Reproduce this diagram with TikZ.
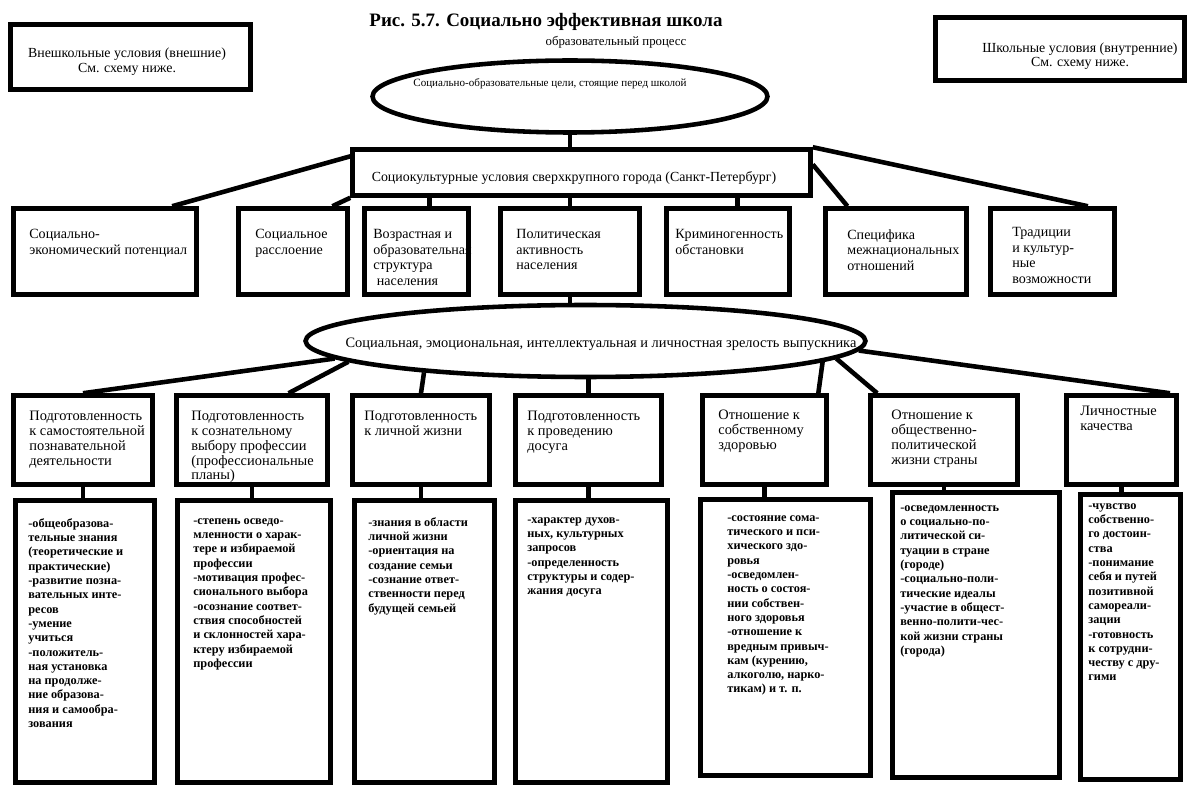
\documentclass[tikz,border=0pt]{standalone}
\usepackage{fontspec}
\setmainfont{Liberation Serif}
\usetikzlibrary{shapes.geometric}

\newcommand\rowfont{\fontsize{8}{8.9}\selectfont}
\newcommand\headfont{\fontsize{8.2}{8.4}\selectfont}
\newcommand\listfont{\fontsize{7}{8.15}\selectfont\bfseries}

\begin{document}
\begin{tikzpicture}[x=0.02cm,y=-0.02cm,
  box/.style={draw,line width=2.6pt,inner sep=0pt},
  oval/.style={draw,ellipse,line width=2.6pt,inner sep=0pt},
  txt/.style={anchor=north west,inner sep=0pt,align=left},
  every edge/.append style={line width=2.6pt}]
\fill[white] (0,0) rectangle (1191,787);
\useasboundingbox (0,0) rectangle (1191,787);

% title and the two corner boxes
\node[font=\fontsize{10.8}{12}\selectfont\bfseries] (title) at (546,22) {Рис. 5.7. Социально эффективная школа};
\node[font=\fontsize{7.3}{8}\selectfont] (proc) at (616,42) {образовательный процесс};
\node[box,minimum width=4.8cm,minimum height=1.3cm] (outer) at (130.5,57) {};
\node[align=center,inner sep=0pt,font=\fontsize{7.9}{8.6}\selectfont] (outert) at (127,62) {Внешкольные условия (внешние)\\См. схему ниже.};
\node[box,minimum width=4.98cm,minimum height=1.26cm] (inner) at (1060,49) {};
\node[align=center,inner sep=0pt,font=\fontsize{7.9}{8}\selectfont] (innert) at (1080,56) {Школьные условия (внутренние)\\См. схему ниже.};

% goals and the city
\node[oval,minimum width=7.9cm,minimum height=1.44cm] (ell1) at (570,96.5) {};
\node[font=\fontsize{6.3}{7}\selectfont] (ell1t) at (550,84) {Социально-образовательные цели, стоящие перед школой};
\node[box,minimum width=9.16cm,minimum height=0.92cm] (soc) at (581.5,172.5) {};
\node[font=\fontsize{7.9}{9}\selectfont] (soct) at (574,178) {Социокультурные условия сверхкрупного города (Санкт-Петербург)};

% conditions of the city
\node[box,minimum width=3.66cm,minimum height=1.72cm] (r1) at (105,251.5) {};
\node[box,minimum width=2.18cm,minimum height=1.72cm] (r2) at (293,251.5) {};
\node[box,minimum width=2.08cm,minimum height=1.72cm] (r3) at (416.5,251.5) {};
\node[box,minimum width=2.78cm,minimum height=1.72cm] (r4) at (570,251.5) {};
\node[box,minimum width=2.46cm,minimum height=1.72cm] (r5) at (728,251.5) {};
\node[box,minimum width=2.82cm,minimum height=1.72cm] (r6) at (896,251.5) {};
\node[box,minimum width=2.48cm,minimum height=1.72cm] (r7) at (1052.5,251.5) {};
\node[txt,font=\rowfont] (r1t) at (29,229) {Социально-\\экономический потенциал};
\node[txt,font=\rowfont] (r2t) at (255,229) {Социальное\\расслоение};
\node[txt,font=\rowfont] (r3t) at (373,229) {Возрастная и\\образовательная\\структура\\\hspace{2pt}населения};
\node[txt,font=\rowfont] (r4t) at (516,229) {Политическая\\активность\\населения};
\node[txt,font=\rowfont] (r5t) at (675,229) {Криминогенность\\обстановки};
\node[txt,font=\rowfont] (r6t) at (847,229) {Специфика\\межнациональных\\отношений};
\node[txt,font=\rowfont] (r7t) at (1012,227) {Традиции\\и культур-\\ные\\возможности};

% maturity of the graduate
\node[oval,minimum width=11.2cm,minimum height=1.44cm] (ell2) at (585.5,341) {};
\node[font=\fontsize{8.2}{9}\selectfont] (ell2t) at (601,344) {Социальная, эмоциональная, интеллектуальная и личностная зрелость выпускника};

\node[box,minimum width=2.78cm,minimum height=1.78cm] (h1) at (83,440) {};
\node[box,minimum width=3.02cm,minimum height=1.78cm] (h2) at (252,440) {};
\node[box,minimum width=2.74cm,minimum height=1.78cm] (h3) at (421,440) {};
\node[box,minimum width=2.92cm,minimum height=1.78cm] (h4) at (588.5,440) {};
\node[box,minimum width=2.48cm,minimum height=1.78cm] (h5) at (764.5,440) {};
\node[box,minimum width=2.94cm,minimum height=1.78cm] (h6) at (944,440) {};
\node[box,minimum width=2.2cm,minimum height=1.78cm] (h7) at (1121.5,440) {};
\node[txt,font=\headfont] (h1t) at (29,411) {Подготовленность\\к самостоятельной\\познавательной\\деятельности};
\node[txt,font=\headfont] (h2t) at (191,411) {Подготовленность\\к сознательному\\выбору профессии\\(профессиональные\\планы)};
\node[txt,font=\headfont] (h3t) at (364,411) {Подготовленность\\к личной жизни};
\node[txt,font=\headfont] (h4t) at (527,411) {Подготовленность\\к проведению\\досуга};
\node[txt,font=\headfont] (h5t) at (718,410) {Отношение к\\собственному\\здоровью};
\node[txt,font=\headfont] (h6t) at (891,410) {Отношение к\\общественно-\\политической\\жизни страны};
\node[txt,font=\headfont] (h7t) at (1080,406) {Личностные\\качества};

\node[box,minimum width=2.78cm,minimum height=5.64cm] (d1) at (85,641.5) {};
\node[box,minimum width=3.06cm,minimum height=5.64cm] (d2) at (254,641.5) {};
\node[box,minimum width=2.8cm,minimum height=5.64cm] (d3) at (424.5,641.5) {};
\node[box,minimum width=3.04cm,minimum height=5.64cm] (d4) at (591.5,641.5) {};
\node[box,minimum width=3.4cm,minimum height=5.52cm] (d5) at (785.5,637.5) {};
\node[box,minimum width=3.34cm,minimum height=5.7cm] (d6) at (976,635) {};
\node[box,minimum width=2cm,minimum height=5.7cm] (d7) at (1130.5,637) {};
\node[txt,font=\listfont] (d1t) at (28,518) {-общеобразова-\\тельные знания\\(теоретические и\\практические)\\-развитие позна-\\вательных инте-\\ресов\\-умение\\учиться\\-положитель-\\ная установка\\на продолже-\\ние образова-\\ния и самообра-\\зования};
\node[txt,font=\listfont] (d2t) at (193,518) {-степень осведо-\\мленности о харак-\\тере и избираемой\\профессии\\-мотивация профес-\\сионального выбора\\-осознание соответ-\\ствия способностей\\и склонностей хара-\\ктеру избираемой\\профессии};
\node[txt,font=\listfont] (d3t) at (368,517) {-знания в области\\личной жизни\\-ориентация на\\создание семьи\\-сознание ответ-\\ственности перед\\будущей семьей};
\node[txt,font=\listfont] (d4t) at (527,517) {-характер духов-\\ных, культурных\\запросов\\-определенность\\структуры и содер-\\жания досуга};
\node[txt,font=\listfont] (d5t) at (727,515) {-состояние сома-\\тического и пси-\\хического здо-\\ровья\\-осведомлен-\\ность о состоя-\\нии собствен-\\ного здоровья\\-отношение к\\вредным привыч-\\кам (курению,\\алкоголю, нарко-\\тикам) и т. п.};
\node[txt,font=\listfont] (d6t) at (900,505) {-осведомленность\\о социально-по-\\литической си-\\туации в стране\\(городе)\\-социально-поли-\\тические идеалы\\-участие в общест-\\венно-полити-чес-\\кой жизни страны\\(города)};
\node[txt,font=\listfont] (d7t) at (1088,503) {-чувство\\собственно-\\го достоин-\\ства\\-понимание\\себя и путей\\позитивной\\самореали-\\зации\\-готовность\\к сотрудни-\\честву с дру-\\гими};

% links
\path (ell1.south) edge (ell1.south |- soc.north);
\path (soc.176) edge (r1.34);
\path (soc.south west) edge (r2.49);
\path (r3.74 |- soc.south) edge (r3.74);
\path (r4.north |- soc.south) edge (r4.north);
\path (r5.78 |- soc.south) edge (r5.78);
\path (soc.2) edge (r6.137);
\path (soc.north east) edge (r7.52);
\path (r4.south) edge (r4.south |- ell2.north);

\path (ell2.184) edge (h1.north);
\path (ell2.185) edge (h2.52);
\path (ell2.191) edge (h3.north);
\path (ell2.south -| h4.north) edge (h4.north);
\path (ell2.355) edge (h5.41);
\path (ell2.356) edge (h6.145);
\path (ell2.358) edge (h7.44);
\foreach \i in {1,...,7}
  \path (h\i.south) edge (h\i.south |- d\i.north);
\end{tikzpicture}
\end{document}
